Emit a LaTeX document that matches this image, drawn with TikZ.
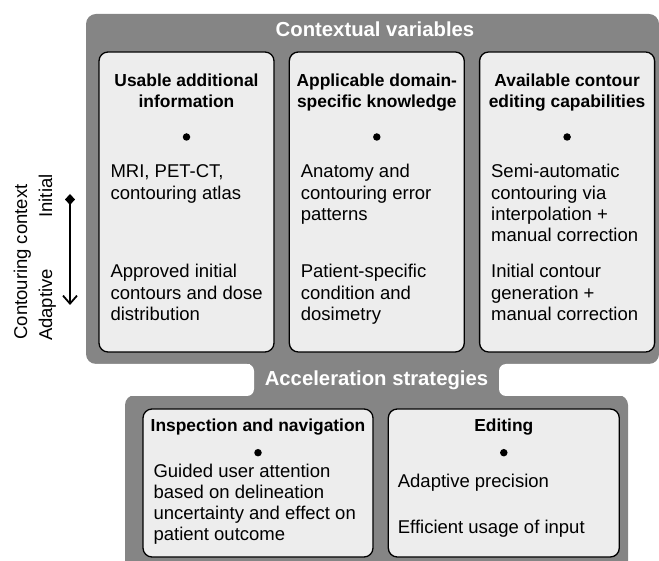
\documentclass[tikz,border=0pt]{standalone}
\usepackage{fontspec}
\setmainfont{Liberation Sans}
\usetikzlibrary{arrows.meta}
\usetikzlibrary{positioning}
\tikzstyle{panel} = [fill=black!48, rounded corners=10pt]
\tikzstyle{gap} = [fill=white, rounded corners=7pt]
\tikzstyle{card} = [rectangle, rounded corners=9pt, draw=black, line width=1.3pt, fill=black!7]
\tikzstyle{heading} = [text=white, font=\fontsize{20.3}{24}\selectfont\bfseries, inner sep=0pt, anchor=base]
\tikzstyle{cardtitle} = [font=\fontsize{17.4}{21}\selectfont\bfseries, align=center, inner sep=0pt, anchor=base]
\tikzstyle{cardtext} = [font=\fontsize{18.5}{21.3}\selectfont, align=left, inner sep=0pt, anchor=base west]
\tikzstyle{dot} = [circle, fill=black, inner sep=0pt, minimum size=7.5pt]
\tikzstyle{sidelabel} = [font=\fontsize{18.5}{22}\selectfont, rotate=90, anchor=base, inner sep=0pt]
\tikzstyle{ctxarrow} = [line width=1.8pt, {Diamond[length=11pt,width=10pt]}-{Straight Barb[length=8pt,width=14pt]}]

\begin{document}
\begin{tikzpicture}[x=1pt, y=1pt, node distance=14pt]

\clip (0,0) rectangle (659,560);

\fill[panel] (86,546) rectangle (659,196);
\fill[black!48] (250,207) rectangle (505,160);
\fill[panel] (125,165) rectangle (628,-20);
\fill[gap] (30,196) rectangle (254,164);
\fill[gap] (499,196) rectangle (700,164);

\node (ctxhead) [heading] at (375,523) {Contextual variables};

\node (acchead) [heading] at (376.5,174) {Acceleration strategies};

\node (var1) [card, minimum width=175pt, minimum height=300pt] at (186.5,358) {};

\node (var2) [card, minimum width=175pt, minimum height=300pt, right=of var1] {};

\node (var3) [card, minimum width=175pt, minimum height=300pt, right=of var2] {};

\node (var1title) [cardtitle] at (var1.center |- 0,452) {Usable additional\\information};
\node (var2title) [cardtitle] at (var2.center |- 0,452) {Applicable domain-\\specific knowledge};
\node (var3title) [cardtitle] at (var3.center |- 0,452) {Available contour\\editing capabilities};

\node (var1dot) [dot] at (var1.center |- 0,423) {};
\node (var2dot) [dot] at (var2.center |- 0,423) {};
\node (var3dot) [dot] at (var3.center |- 0,423) {};

\node (var1init) [cardtext, xshift=12pt] at (var1.west |- 0,360.7) {MRI, PET-CT,\\contouring atlas};
\node (var1adapt) [cardtext, xshift=12pt] at (var1.west |- 0,239.4) {Approved initial\\contours and dose\\distribution};

\node (var2init) [cardtext, xshift=12pt] at (var2.west |- 0,339.4) {Anatomy and\\contouring error\\patterns};
\node (var2adapt) [cardtext, xshift=12pt] at (var2.west |- 0,239.4) {Patient-specific\\condition and\\dosimetry};

\node (var3init) [cardtext, xshift=12pt] at (var3.west |- 0,318.1) {Semi-automatic\\contouring via\\interpolation +\\manual correction};
\node (var3adapt) [cardtext, xshift=12pt] at (var3.west |- 0,239.4) {Initial contour\\generation +\\manual correction};

\node (strat1) [card, minimum width=230pt, minimum height=148pt] at (258,77) {};

\node (strat2) [card, minimum width=231pt, minimum height=148pt, right=of strat1] {};

\node (strat1title) [cardtitle] at (strat1.center |- 0,128.3) {Inspection and navigation};
\node (strat2title) [cardtitle] at (strat2.center |- 0,128.3) {Editing};

\node (strat1dot) [dot] at (strat1.center |- 0,107.3) {};
\node (strat2dot) [dot] at (strat2.center |- 0,107.3) {};

\node (strat1text) [cardtext, xshift=11pt] at (strat1.west |- 0,19.1) {Guided user attention\\based on delineation\\uncertainty and effect on\\patient outcome};

\node (strat2prec) [cardtext, xshift=10pt] at (strat2.west |- 0,72) {Adaptive precision};
\node (strat2input) [cardtext, xshift=10pt] at (strat2.west |- 0,27) {Efficient usage of input};

\node (ctxlabel) [sidelabel] at (27,298) {Contouring context};
\node (initlabel) [sidelabel] at (52,364) {Initial};
\node (adaptlabel) [sidelabel] at (52,255) {Adaptive};

\coordinate (initial) at (70,366);
\coordinate (adaptive) at (70,255);
\draw [ctxarrow] (initial) -- (adaptive);

\end{tikzpicture}
\end{document}
